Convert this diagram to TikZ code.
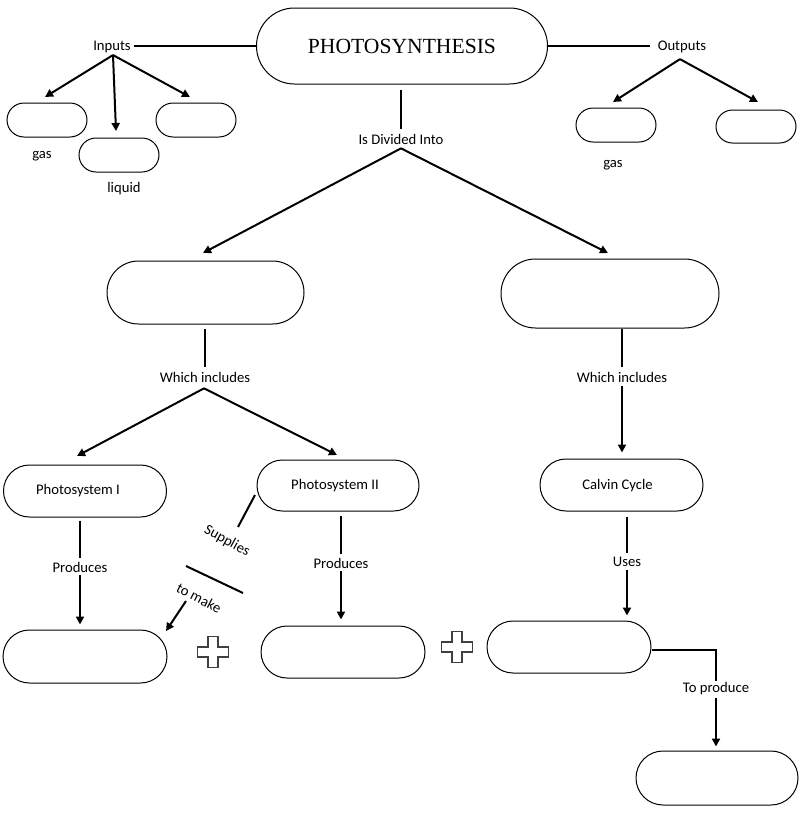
\documentclass[tikz,border=0pt]{standalone}
\usepackage{fontspec}
\setmainfont{Carlito}
\newfontfamily\titlefont{Liberation Serif}
\usetikzlibrary{shapes.misc,arrows.meta}
\begin{document}
\begin{tikzpicture}[x=1pt,y=-1pt,
  pill/.style={draw, line width=1pt, rounded rectangle, inner sep=0pt,
    font=\fontsize{14.67}{17}\selectfont},
  lbl/.style={font=\fontsize{14.67}{17}\selectfont, inner sep=1pt},
  conn/.style={line width=2pt},
  arr/.style={line width=2pt, -{Triangle[length=8pt,width=8pt]}},
  plus/.style={draw=black!75, line width=1.2pt, fill=white},
]
\useasboundingbox (0,0) rectangle (811,817);

% boxes
\node[pill, minimum width=291pt, minimum height=76pt] (photo) at (402,46)
  {\titlefont\fontsize{21.6}{25}\selectfont PHOTOSYNTHESIS};
\node[pill, minimum width=80pt, minimum height=34pt] (in1) at (47,120) {};
\node[pill, minimum width=80pt, minimum height=34pt] (in2) at (119,155) {};
\node[pill, minimum width=80pt, minimum height=34pt] (in3) at (196,120) {};
\node[pill, minimum width=80pt, minimum height=34pt] (out1) at (616,125) {};
\node[pill, minimum width=80pt, minimum height=33pt] (out2) at (756,126.5) {};
\node[pill, minimum width=197pt, minimum height=63pt] (light) at (205.5,292.5) {};
\node[pill, minimum width=218pt, minimum height=69pt] (dark) at (610,293.5) {};
\node[pill, minimum width=163pt, minimum height=52pt,
  label={[lbl, xshift=-7pt]center:Photosystem I}] (ps1) at (85,491) {};
\node[pill, minimum width=162pt, minimum height=51pt,
  label={[lbl, xshift=-3pt]center:Photosystem II}] (ps2) at (338,485.5) {};
\node[pill, minimum width=163pt, minimum height=52pt,
  label={[lbl, xshift=-4pt, yshift=-1pt]center:Calvin Cycle}] (calvin) at (621.5,485) {};
\node[pill, minimum width=164pt, minimum height=53pt] (b1) at (85,656.5) {};
\node[pill, minimum width=164pt, minimum height=52pt] (b2) at (343,652) {};
\node[pill, minimum width=164pt, minimum height=52pt] (b3) at (569,647) {};
\node[pill, minimum width=162pt, minimum height=54pt] (b4) at (717,778) {};

% labels
\node[lbl] (inputs) at (112,47) {Inputs};
\node[lbl] (outputs) at (682,47) {Outputs};
\node[lbl] (gas1) at (42,156) {gas};
\node[lbl] (liquid) at (124,189) {liquid};
\node[lbl] (gas2) at (613,165) {gas};
\node[lbl] (div) at (401,139) {Is Divided Into};
\node[lbl] (wi1) at (205,377) {Which includes};
\node[lbl] (wi2) at (622,377) {Which includes};
\node[lbl] (prod1) at (80,567) {Produces};
\node[lbl] (prod2) at (341,563) {Produces};
\node[lbl] (uses) at (627,562) {Uses};
\node[lbl] (toprod) at (716,689) {To produce};
\node[lbl, rotate=-29] (supplies) at (227,541) {Supplies};
\node[lbl, rotate=-27] (tomake) at (199,598) {to make};

% plus signs
\foreach \cx/\cy in {213/652, 457/647}{
  \draw[plus] (\cx-5,\cy-15.5) -- (\cx+5,\cy-15.5) -- (\cx+5,\cy-5) -- (\cx+15.5,\cy-5)
    -- (\cx+15.5,\cy+5) -- (\cx+5,\cy+5) -- (\cx+5,\cy+15.5) -- (\cx-5,\cy+15.5)
    -- (\cx-5,\cy+5) -- (\cx-15.5,\cy+5) -- (\cx-15.5,\cy-5) -- (\cx-5,\cy-5) -- cycle;
}

% arrow end points
\coordinate (inA) at (45,97);
\coordinate (inB) at (116,131);
\coordinate (inC) at (190,97);
\coordinate (outA) at (613,102);
\coordinate (outB) at (758,102);
\coordinate (divL) at (203,253);
\coordinate (divR) at (608,253);
\coordinate (wiL) at (77,456);
\coordinate (wiR) at (337,455);
\coordinate (supA) at (255,495);
\coordinate (supB) at (238,527);
\coordinate (mkA) at (186,566);
\coordinate (mkB) at (243,593);
\coordinate (mkC) at (186,601);
\coordinate (mkD) at (166,631);

% top connectors
\draw[conn] (inputs.east) ++(2,-1) -- (photo.west);
\draw[conn, shorten >=7pt] (photo.east) -- (outputs.west |- photo.east);
\foreach \t in {inA,inB,inC} \draw[arr] (inputs.south) ++(1,1) -- (\t);
\foreach \t in {outA,outB} \draw[arr] (outputs.south) ++(-2,5) -- (\t);
\draw[conn, shorten <=5pt, shorten >=4pt] (div.north |- photo.south) -- (div.north);
\foreach \t in {divL,divR} \draw[arr] (div.south) ++(0,3) -- (\t);

% light reactions
\draw[conn, shorten <=4pt, shorten >=4pt] (wi1.north |- light.south) -- (wi1.north);
\foreach \t in {wiL,wiR} \draw[arr] (wi1.south) ++(-1,5) -- (\t);
\draw[conn, shorten <=3pt, shorten >=3pt] (prod1.north |- ps1.south) -- (prod1.north);
\draw[arr, shorten <=2pt, shorten >=5pt] (prod1.south) -- (prod1.south |- b1.north);
\draw[conn, shorten <=4pt, shorten >=3pt] (prod2.north |- ps2.south) -- (prod2.north);
\draw[arr, shorten <=2pt, shorten >=6pt] (prod2.south) -- (prod2.south |- b2.north);
\draw[conn] (supA) -- (supB);
\draw[conn] (mkA) -- (mkB);
\draw[arr] (mkC) -- (mkD);

% dark reactions
\draw[conn, shorten >=4pt] (wi2.north |- dark.south) -- (wi2.north);
\draw[arr, shorten <=3pt, shorten >=6pt] (wi2.south) -- (wi2.south |- calvin.north);
\draw[conn, shorten <=5pt, shorten >=3pt] (uses.north |- calvin.south) -- (uses.north);
\draw[arr, shorten <=2pt, shorten >=5pt] (uses.south) -- (uses.south |- b3.north);
\draw[conn, shorten >=1pt] ([yshift=-3pt]b3.east) -| (toprod.north);
\draw[arr, shorten <=2pt, shorten >=4pt] (toprod.south) -- (toprod.south |- b4.north);
\end{tikzpicture}
\end{document}
